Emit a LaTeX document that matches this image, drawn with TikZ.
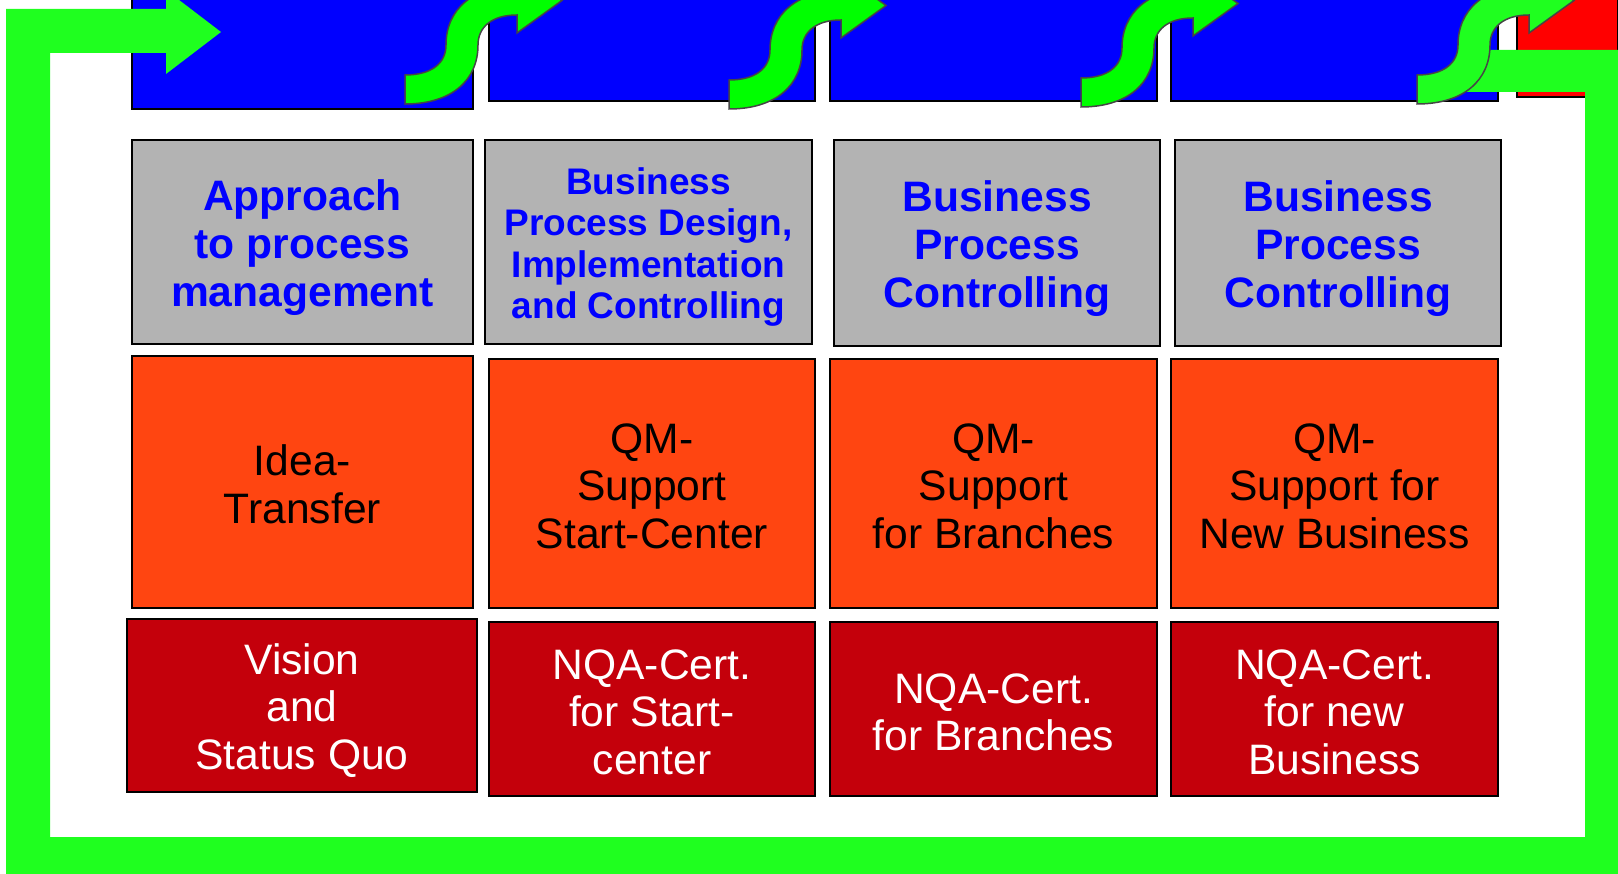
\documentclass[tikz,border=0pt]{standalone}
\usepackage{fontspec}
\setmainfont{Liberation Sans}
\definecolor{procblue}{RGB}{0,0,255}
\definecolor{stepred}{RGB}{255,0,0}
\definecolor{headgray}{RGB}{179,179,179}
\definecolor{suporange}{RGB}{255,69,17}
\definecolor{certred}{RGB}{196,0,11}
\definecolor{loopgreen}{RGB}{31,255,31}
\definecolor{sgreen}{RGB}{0,255,0}
\definecolor{sline}{RGB}{70,70,70}
% taller first line pushes the text block down
\newcommand{\padtop}[1]{\rule{0pt}{#1pt}}

\tikzset{
  cell/.style={draw=black, line width=2pt, inner sep=0pt, outer sep=0pt, align=center},
  topbox/.style={cell, fill=procblue},
  headbox/.style={cell, fill=headgray, text=procblue, font=\bfseries\fontsize{42.6}{48}\selectfont},
  supbox/.style={cell, fill=suporange, text=black, font=\fontsize{42.6}{47.5}\selectfont},
  certbox/.style={cell, fill=certred, text=white, font=\fontsize{42.6}{47.5}\selectfont},
  sarrow/.pic={
    \filldraw[fill=#1, draw=sline, line width=1.5pt] (-57,59) -- (-57,30)
      .. controls (-30,30) and (-16,18) .. (-16,0)
      .. controls (-16,-35) and (10,-59) .. (55,-59)
      -- (55,-77) -- (100,-44.5) -- (55,-12) -- (55,-30)
      .. controls (30,-30) and (16,-18) .. (16,0)
      .. controls (16,35) and (-10,59) .. (-57,59) -- cycle;
  }
}

\begin{document}
\begin{tikzpicture}[x=1pt,y=-1pt]
\useasboundingbox (0,0) rectangle (1618,874);
\clip (0,0) rectangle (1618,874);

% top row
\node[topbox, minimum width=341pt, minimum height=129pt] (blue1) at (302.5,44.5) {};
\node[topbox, minimum width=326pt, minimum height=121pt] (blue2) at (652,40.5) {};
\node[topbox, minimum width=327pt, minimum height=121pt] (blue3) at (993.5,40.5) {};
\node[topbox, minimum width=327pt, minimum height=121pt] (blue4) at (1334.5,40.5) {};
\node[topbox, fill=stepred, minimum width=101pt, minimum height=117pt] (red5) at (1567.5,38.5) {};

% headings
\node[headbox, minimum width=341pt, minimum height=204pt] (head1) at (302.5,242) {\padtop{43}Approach\\to process\\management};
\node[headbox, minimum width=327pt, minimum height=204pt, font=\bfseries\fontsize{37}{41.3}\selectfont] (head2) at (648.5,242) {\padtop{37}Business\\Process Design,\\Implementation\\and Controlling};
\node[headbox, minimum width=326pt, minimum height=206pt] (head3) at (997,243) {\padtop{43}Business\\Process\\Controlling};
\node[headbox, minimum width=326pt, minimum height=206pt] (head4) at (1338,243) {\padtop{43}Business\\Process\\Controlling};

% support
\node[supbox, minimum width=341pt, minimum height=252pt] (sup1) at (302.5,482) {\padtop{35}Idea-\\Transfer};
\node[supbox, minimum width=326pt, minimum height=249pt] (sup2) at (652,483.5) {\padtop{35}QM-\\Support\\Start-Center};
\node[supbox, minimum width=327pt, minimum height=249pt] (sup3) at (993.5,483.5) {\padtop{35}QM-\\Support\\for Branches};
\node[supbox, minimum width=327pt, minimum height=249pt] (sup4) at (1334.5,483.5) {\padtop{35}QM-\\Support for\\New Business};

% certification
\node[certbox, minimum width=350pt, minimum height=173pt] (cert1) at (302,705.5) {\padtop{41}Vision\\and\\Status Quo};
\node[certbox, minimum width=326pt, minimum height=174pt] (cert2) at (652,709) {\padtop{36}NQA-Cert.\\for Start-\\center};
\node[certbox, minimum width=327pt, minimum height=174pt] (cert3) at (993.5,709) {\padtop{36}NQA-Cert.\\for Branches};
\node[certbox, minimum width=327pt, minimum height=174pt] (cert4) at (1334.5,709) {\padtop{36}NQA-Cert.\\for new\\Business};

% green loop
\fill[loopgreen] (1460,50) -- (1618,50) -- (1618,880) -- (6,880) -- (6,9) -- (166,9)
  -- (166,-10) -- (221,32) -- (166,74) -- (166,53) -- (50,53) -- (50,837)
  -- (1585,837) -- (1585,92) -- (1460,92) -- cycle;

% s-arrows
\foreach \cx/\cy in {462/45, 786/50, 1138/48}
  \pic at (\cx,\cy) {sarrow=sgreen};
\pic at (1474,45) {sarrow=loopgreen};

\end{tikzpicture}
\end{document}
